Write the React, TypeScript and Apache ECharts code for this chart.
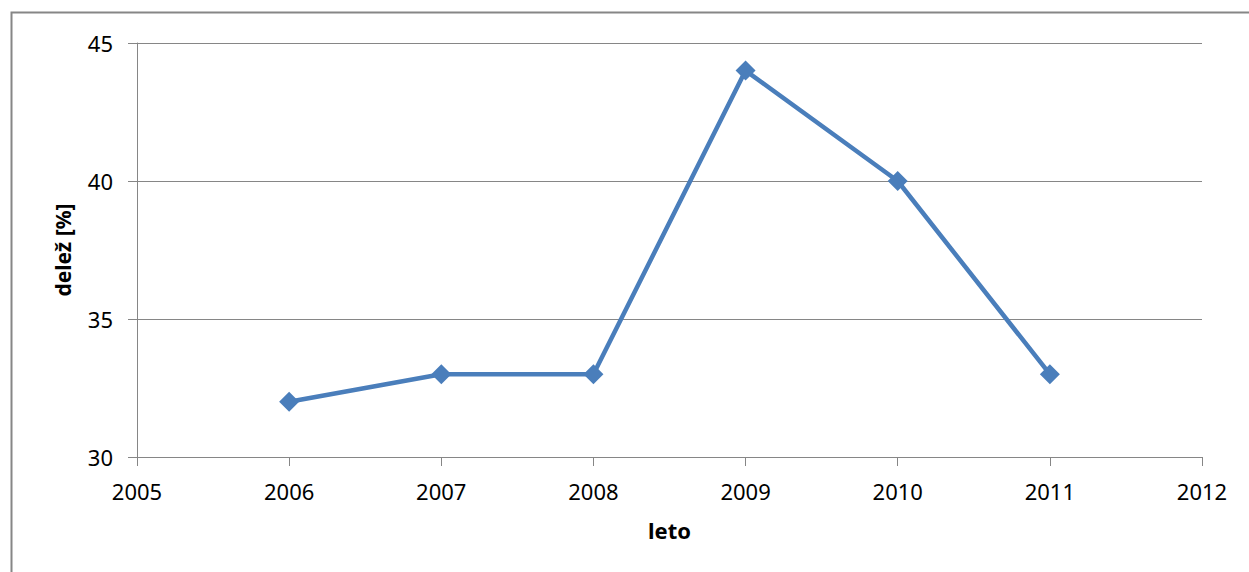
import React, { useEffect, useRef } from "react";
import * as echarts from "echarts";

const years = [2006, 2007, 2008, 2009, 2010, 2011];
const shares = [32, 33, 33, 44, 40, 33];
const xName = "leto";
const yName = "delež [%]";

export default function App() {
  const ref = useRef<HTMLDivElement>(null);
  useEffect(() => {
    const chart = echarts.init(ref.current!, null, { renderer: "svg" });
    const font = "Noto Sans";
    chart.setOption({
      animation: false,
      backgroundColor: "#ffffff",
      graphic: [
        {
          type: "rect",
          shape: { x: 11.5, y: 12.5, width: 1300, height: 700 },
          style: { fill: "none", stroke: "#868686", lineWidth: 2 },
          silent: true,
        },
      ],
      grid: { left: 137, top: 43, right: 47, bottom: 115 },
      xAxis: {
        type: "value",
        min: 2005,
        max: 2012,
        interval: 1,
        name: xName,
        nameLocation: "middle",
        nameGap: 62,
        nameTextStyle: { fontFamily: font, fontWeight: "bold", fontSize: 22, color: "#000" },
        axisLine: { show: true, lineStyle: { color: "#868686", width: 1 } },
        axisTick: { show: true, length: 9, lineStyle: { color: "#868686" } },
        axisLabel: {
          fontFamily: font,
          fontSize: 22,
          color: "#000",
          margin: 23,
          formatter: (v: number) => String(v),
        },
        splitLine: { show: false },
      },
      yAxis: {
        type: "value",
        min: 30,
        max: 45,
        interval: 5,
        name: yName,
        nameLocation: "middle",
        nameGap: 64,
        nameRotate: 90,
        nameTextStyle: { fontFamily: font, fontWeight: "bold", fontSize: 21, color: "#000" },
        axisLine: { show: true, lineStyle: { color: "#868686", width: 1 } },
        axisTick: { show: true, length: 9, lineStyle: { color: "#868686" } },
        axisLabel: { fontFamily: font, fontSize: 22, color: "#000", margin: 24 },
        splitLine: { show: true, lineStyle: { color: "#868686", width: 1 } },
      },
      series: [
        {
          type: "line",
          data: years.map((y, i) => [y, shares[i]]),
          symbol: "diamond",
          symbolSize: 20,
          lineStyle: { color: "#4A7EBB", width: 4.5 },
          itemStyle: { color: "#4A7EBB" },
        },
      ],
    });
    return () => chart.dispose();
  }, []);
  return (
    <div
      ref={ref}
      style={{ position: "fixed", left: 0, top: 0, width: 1249, height: 572 }}
    />
  );
}
